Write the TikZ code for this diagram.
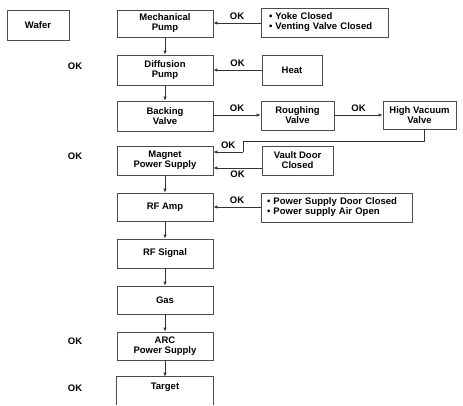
\documentclass[tikz,border=0pt]{standalone}
\usepackage{fontspec}
\setmainfont{Liberation Sans}
\usetikzlibrary{arrows.meta}
\tikzset{
  box/.style={draw=black!70, line width=0.7pt, fill=white, align=center, inner sep=1pt,
    font=\fontsize{9.5}{10}\selectfont\bfseries},
  lbl/.style={font=\fontsize{9.5}{10}\selectfont\bfseries, inner sep=0pt},
  conn/.style={draw=black!80, line width=0.7pt, -{Latex[length=4pt,width=3.5pt]}},
  plain/.style={draw=black!80, line width=0.7pt},
}
\begin{document}
\begin{tikzpicture}[x=1pt,y=-1pt]
\useasboundingbox (0,0) rectangle (463,405);
\clip (0,0) rectangle (463,404);
% main column
\node[box, minimum width=96, minimum height=27] (mech) at (165,23.5) {Mechanical\\Pump};
\node[box, minimum width=96, minimum height=30] (diff) at (165,70) {Diffusion\\Pump};
\node[box, minimum width=96, minimum height=30] (back) at (165,116) {Backing\\Valve};
\node[box, minimum width=96, minimum height=29] (magnet) at (165,160.5) {Magnet\\Power Supply};
\node[box, minimum width=96, minimum height=28] (rfamp) at (165,207) {RF Amp};
\node[box, minimum width=96, minimum height=29] (rfsig) at (165,253.5) {RF Signal};
\node[box, minimum width=96, minimum height=28] (gas) at (165,300) {Gas};
\node[box, minimum width=96, minimum height=28] (arc) at (165,346) {ARC\\Power Supply};
\node[box, draw=none, minimum width=96, minimum height=20] (target) at (165,387) {Target};
\draw[draw=black!70, line width=0.7pt] ([yshift=-14pt]target.south west) -- (target.north west) -- (target.north east) -- ([yshift=-14pt]target.south east);
% wafer
\node[box, minimum width=62, minimum height=30] (wafer) at (38,25) {Wafer};
% left OK labels
\node[lbl] (ok1) at (75,66) {OK};
\node[lbl] (ok2) at (75,156) {OK};
\node[lbl] (ok3) at (75,341) {OK};
\node[lbl] (ok4) at (75,388) {OK};
% right boxes
\node[box, minimum height=29, text width=111, inner xsep=8pt, align=left] (yoke) at (324.5,22.5) {• Yoke Closed\\• Venting Valve Closed};
\node[box, minimum width=60, minimum height=30] (heat) at (292,70) {Heat};
\node[box, minimum width=73, minimum height=29] (rough) at (297.5,115.5) {Roughing\\Valve};
\node[box, minimum width=73, minimum height=28] (hvv) at (419.5,115) {High Vacuum\\Valve};
\node[box, minimum width=71, minimum height=29] (vault) at (297.5,160.5) {Vault Door\\Closed};
\node[box, minimum height=29, text width=139, inner xsep=6pt, align=left] (psdoor) at (336.5,207.5) {• Power Supply Door Closed\\• Power supply Air Open};
% main column arrows
\draw[conn] (mech) -- (diff);
\draw[conn] (diff) -- (back);
\draw[conn] (magnet) -- (rfamp);
\draw[conn] (rfamp) -- (rfsig);
\draw[conn] (rfsig) -- (gas);
\draw[conn] (gas) -- (arc);
\draw[conn] (arc) -- (target);
% side connectors
\draw[conn] (yoke.west |- 0,23) -- node[lbl, above=3pt] (okA) {OK} (mech.east |- 0,23);
\draw[conn] (heat.west) -- node[lbl, above=3pt] (okB) {OK} (diff.east |- heat.west);
\draw[conn] (back.east |- 0,115) -- node[lbl, above=3pt] (okC) {OK} (rough.west |- 0,115);
\draw[conn] (rough.east |- 0,115) -- node[lbl, above=3pt] (okD) {OK} (hvv.west |- 0,115);
\coordinate (c1) at (424,141);
\coordinate (c2) at (243,141);
\coordinate (c3) at (243,152);
\draw[plain] (hvv.south -| c1) -- (c1) -- (c2) -- (c3);
\draw[conn] (c3) -- node[lbl, above=3pt] (okE) {OK} (magnet.east |- c3);
\draw[conn] (vault.west |- 0,168) -- node[lbl, below=3pt] (okF) {OK} (magnet.east |- 0,168);
\draw[conn] (psdoor.west |- 0,207) -- node[lbl, above=3pt] (okG) {OK} (rfamp.east |- 0,207);
\end{tikzpicture}
\end{document}
